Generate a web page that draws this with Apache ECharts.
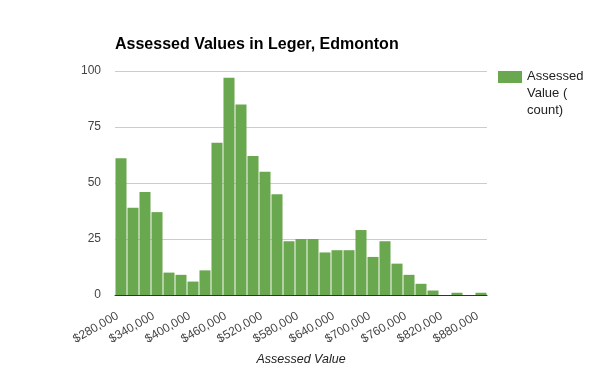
<!DOCTYPE html>
<html><head><meta charset="utf-8">
<script src="https://cdn.jsdelivr.net/npm/echarts@6/dist/echarts.min.js"></script>
<style>html,body{margin:0;padding:0;background:#fff}#c{width:600px;height:371px}</style>
</head><body><div id="c"></div>
<script>
var categories = ['$280,000','$300,000','$320,000','$340,000','$360,000','$380,000','$400,000','$420,000','$440,000','$460,000','$480,000','$500,000','$520,000','$540,000','$560,000','$580,000','$600,000','$620,000','$640,000','$660,000','$680,000','$700,000','$720,000','$740,000','$760,000','$780,000','$800,000','$820,000','$840,000','$860,000','$880,000'];
var counts = [61,39,46,37,10,9,6,11,68,97,85,62,55,45,24,25,25,19,20,20,29,17,24,14,9,5,2,0,1,0,1];
var yTicks = [0,25,50,75,100];
var seriesName = 'Assessed Value ( count)';
var barColor = '#6aa84f';

var chart = echarts.init(document.getElementById('c'), null, {renderer:'canvas'});
chart.setOption({
  animation:false,
  textStyle:{fontFamily:'Arial, "Liberation Sans", sans-serif'},
  title:{text:'Assessed Values in Leger, Edmonton',left:115,top:37,padding:0,
    textStyle:{fontSize:16,fontWeight:'bold',color:'#000',fontFamily:'Arial, "Liberation Sans", sans-serif'}},
  legend:{show:false},
  graphic:[
    {type:'rect',left:498,top:71,shape:{width:24,height:12},style:{fill:barColor}},
    {type:'text',left:527,top:68,style:{text:'Assessed\nValue (\ncount)',fontSize:13,lineHeight:17,fill:'#222',
      fontFamily:'Arial, "Liberation Sans", sans-serif'}}
  ],
  grid:{left:115,right:113,top:71,bottom:72,containLabel:false},
  xAxis:{type:'category',data:categories,
    axisLine:{lineStyle:{color:'#333',width:1}},
    axisTick:{show:false},
    axisLabel:{interval:2,rotate:30,color:'#444',fontSize:12,margin:18,padding:[0,4,0,0]},
    name:'Assessed Value',nameLocation:'middle',nameGap:58,
    nameTextStyle:{fontStyle:'italic',fontSize:12.5,color:'#222'}},
  yAxis:{type:'value',min:yTicks[0],max:yTicks[yTicks.length-1],interval:25,
    axisLine:{show:false},axisTick:{show:false},
    axisLabel:{color:'#444',fontSize:12,margin:14},
    splitLine:{lineStyle:{color:'#ccc'}}},
  series:[{name:seriesName,type:'bar',data:counts,barCategoryGap:'8%',
    itemStyle:{color:barColor}}]
});
</script></body></html>
